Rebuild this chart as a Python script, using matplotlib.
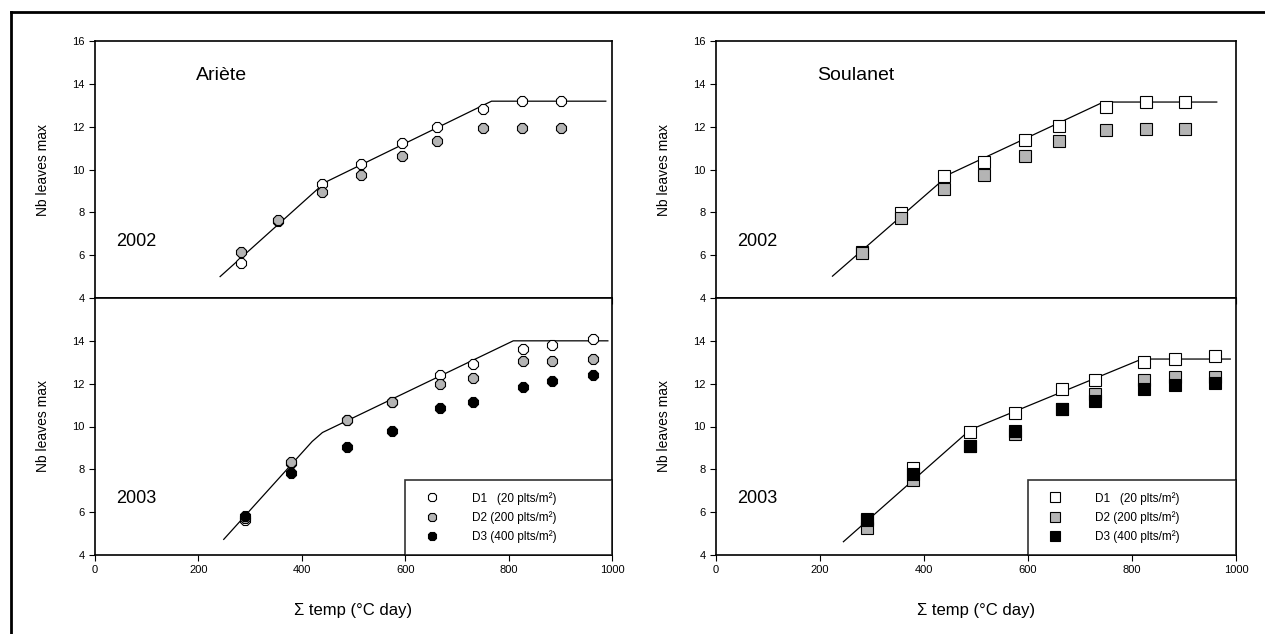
import matplotlib
matplotlib.use("Agg")
import matplotlib.pyplot as plt
from matplotlib.lines import Line2D

plt.rcParams['font.family'] = ['Liberation Sans', 'DejaVu Sans']

# Ariete 2002
ar02_x = [282, 353, 440, 515, 594, 661, 751, 826, 901]
ar02_d1 = [5.62, 7.6, 9.33, 10.24, 11.23, 11.97, 12.83, 13.19, 13.19]
ar02_d2 = [6.13, 7.65, 8.94, 9.73, 10.64, 11.31, 11.94, 11.94, 11.94]
ar02_fit_x = [242, 445, 767, 988]
ar02_fit_y = [5.0, 9.4, 13.19, 13.19]

# Ariete 2003
ar03_x = [290, 379, 488, 574, 667, 732, 828, 883, 963]
ar03_d1 = [5.62, 8.3, 10.3, 11.14, 12.39, 12.93, 13.63, 13.81, 14.08]
ar03_d2 = [5.75, 8.33, 10.31, 11.14, 12.0, 12.27, 13.04, 13.04, 13.15]
ar03_d3 = [5.82, 7.82, 9.02, 9.80, 10.88, 11.16, 11.84, 12.11, 12.42]
ar03_fit_x = [249, 420, 440, 809, 992]
ar03_fit_y = [4.73, 9.3, 9.72, 14.0, 14.0]

# Soulanet 2002
so02_x = [281, 355, 438, 516, 594, 660, 750, 826, 901]
so02_d1 = [6.15, 7.97, 9.69, 10.37, 11.37, 12.05, 12.91, 13.15, 13.15]
so02_d2 = [6.1, 7.73, 9.07, 9.74, 10.64, 11.34, 11.84, 11.89, 11.89]
so02_fit_x = [224, 450, 745, 963]
so02_fit_y = [5.02, 9.8, 13.15, 13.15]

# Soulanet 2003
so03_x = [290, 379, 489, 575, 665, 729, 824, 883, 959]
so03_d1 = [5.7, 8.06, 9.72, 10.65, 11.73, 12.15, 13.01, 13.15, 13.27]
so03_d2 = [5.27, 7.5, 9.1, 9.64, 10.8, 11.5, 12.15, 12.32, 12.32]
so03_d3 = [5.65, 7.79, 9.1, 9.8, 10.83, 11.19, 11.77, 11.96, 12.04]
so03_fit_x = [245, 489, 819, 989]
so03_fit_y = [4.62, 9.85, 13.15, 13.15]

labels = ['D1   (20 plts/m²)', 'D2 (200 plts/m²)', 'D3 (400 plts/m²)']
fills = ['white', '#b4b4b4', 'black']

fig = plt.figure(figsize=(12.65, 6.34), dpi=100)

# outer frame
fig.add_artist(Line2D([11 / 1265, 1], [1 - 12 / 634, 1 - 12 / 634], color='black', lw=2))
fig.add_artist(Line2D([11 / 1265, 11 / 1265], [0, 1 - 12 / 634], color='black', lw=2))

lefts = [95 / 1265, 716 / 1265]
widths = [517 / 1265, 520 / 1265]
top_b, bot_b, h = 1 - 298 / 634, 1 - 555 / 634, 257 / 634

panels = [
    ('Ariète', '8', 7.5,
     (ar02_x, [ar02_d1, ar02_d2], ar02_fit_x, ar02_fit_y),
     (ar03_x, [ar03_d1, ar03_d2, ar03_d3], ar03_fit_x, ar03_fit_y)),
    ('Soulanet', 's', 8,
     (so02_x, [so02_d1, so02_d2], so02_fit_x, so02_fit_y),
     (so03_x, [so03_d1, so03_d2, so03_d3], so03_fit_x, so03_fit_y)),
]

for col, (name, mk, ms, top, bot) in enumerate(panels):
    ax_t = fig.add_axes([lefts[col], top_b, widths[col], h])
    ax_b = fig.add_axes([lefts[col], bot_b, widths[col], h])
    for ax, (xs, series, fx, fy), year in [(ax_t, top, '2002'), (ax_b, bot, '2003')]:
        ax.plot(fx, fy, color='black', lw=0.9, zorder=3)
        # later densities drawn on top, as in the original
        for i, ys in enumerate(series):
            ax.plot(xs, ys, ls='none', marker=mk, ms=ms, mfc=fills[i],
                    mec='black', mew=0.8, zorder=4 + i, label=labels[i])
        ax.set_xlim(0, 1000)
        ax.set_ylim(4, 16)
        ax.set_xticks(range(0, 1001, 200))
        ax.tick_params(direction='out', length=4, labelsize=8, width=0.8)
        for s in ax.spines.values():
            s.set_linewidth(1.2)
        ax.set_ylabel('Nb leaves max', fontsize=10, labelpad=16)
        ax.text(40, 6.45, year, fontsize=13)
    ax_t.set_yticks(range(4, 17, 2))
    ax_t.set_xticklabels([])
    ax_b.set_yticks(range(4, 15, 2))
    ax_t.text(195, 14.2, name, fontsize=14)
    ax_b.set_xlabel('Σ temp (°C day)', fontsize=12, labelpad=20)

    leg = ax_b.legend(loc='lower left',
                      bbox_to_anchor=(0.6, 0.0, 0.4, 0.3), mode='expand',
                      borderaxespad=0, fancybox=False, edgecolor='black',
                      fontsize=8.5, handletextpad=2.2, labelspacing=0.55,
                      borderpad=1.0, handlelength=2.5, markerscale=0.85)
    leg.get_frame().set_linewidth(1.2)
    leg.set_zorder(10)

fig.savefig('out.png', dpi=100)
